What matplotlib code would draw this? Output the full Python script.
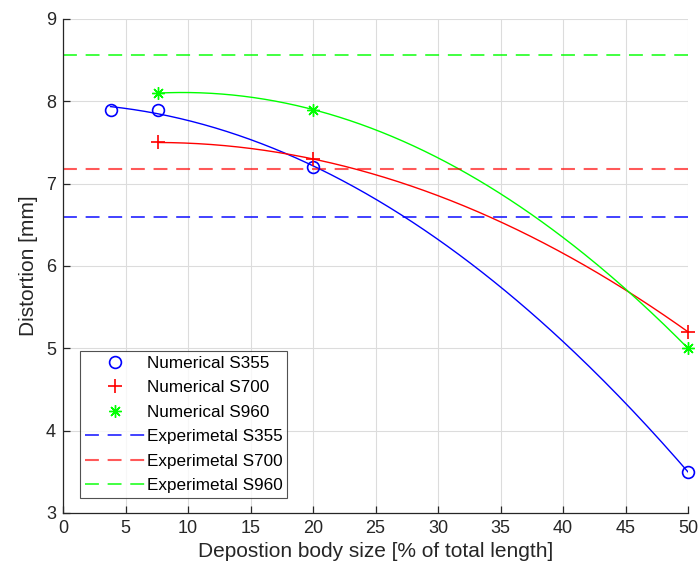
import numpy as np
import matplotlib.pyplot as plt

plt.rcParams['font.family'] = ['Liberation Sans', 'DejaVu Sans']
plt.rcParams['lines.scale_dashes'] = False

# numerical results
x_s355 = [3.8, 7.6, 20, 50]
y_s355 = [7.9, 7.9, 7.2, 3.5]
x_s700 = [7.6, 20, 50]
y_s700 = [7.5, 7.3, 5.2]
x_s960 = [7.6, 20, 50]
y_s960 = [8.1, 7.9, 5.0]

# experimental values
exp_s355 = 6.59
exp_s700 = 7.18
exp_s960 = 8.56

fig = plt.figure(figsize=(7, 5.74), dpi=100)
ax = fig.add_axes([0.09, 0.1063, 0.8929, 0.8606])

blue = '#0000ff'
red = '#ff0000'
green = '#00ff00'

h1, = ax.plot(x_s355, y_s355, 'o', color=blue, mfc='none', ms=8.5, mew=1.2,
              clip_on=False, zorder=4, label='Numerical S355')
h2, = ax.plot(x_s700, y_s700, '+', color=red, ms=10, mew=1.2,
              clip_on=False, zorder=4, label='Numerical S700')
h3, = ax.plot(x_s960, y_s960, marker=(8, 2, 0), ls='none', color=green, ms=9, mew=1.0,
              clip_on=False, zorder=4, label='Numerical S960')

# quadratic fits
for xs, ys, c in [(x_s355, y_s355, blue), (x_s700, y_s700, red), (x_s960, y_s960, green)]:
    p = np.polyfit(xs, ys, 2)
    xx = np.linspace(min(xs), max(xs), 200)
    ax.plot(xx, np.polyval(p, xx), '-', color=c, lw=1.0)

dash = (10, 6.3)
h4 = ax.axhline(exp_s355, color=blue, lw=1.3, dashes=dash, alpha=0.8, label='Experimetal S355')
h5 = ax.axhline(exp_s700, color=red, lw=1.5, dashes=dash, alpha=0.65, label='Experimetal S700')
h6 = ax.axhline(exp_s960, color=green, lw=1.3, dashes=dash, alpha=0.8, label='Experimetal S960')

ax.set_xlim(0, 50)
ax.set_ylim(3, 9)
ax.set_xticks(np.arange(0, 51, 5))
ax.set_yticks(np.arange(3, 10, 1))
ax.grid(True, color='#dcdcdc', lw=0.8)
ax.set_axisbelow(True)
for s in ['top', 'right']:
    ax.spines[s].set_visible(False)
for s in ['left', 'bottom']:
    ax.spines[s].set_color('#262626')
    ax.spines[s].set_linewidth(0.9)
ax.tick_params(direction='in', length=5, width=0.9, color='#262626', labelsize=13,
               labelcolor='#262626', pad=5)
ax.set_xlabel('Depostion body size [% of total length]', fontsize=15, color='#262626',
              labelpad=4)
ax.set_ylabel('Distortion [mm]', fontsize=15, color='#262626', labelpad=6)

leg = ax.legend(handles=[h1, h2, h3, h4, h5, h6], loc='lower left',
                bbox_to_anchor=(0.027, 0.03), fontsize=12.3, frameon=True,
                fancybox=False, edgecolor='#262626', handlelength=3.5,
                handletextpad=0.1, borderpad=0.3, labelspacing=0.55, borderaxespad=0)
leg.get_frame().set_linewidth(0.8)

fig.savefig('out.png', dpi=100)
